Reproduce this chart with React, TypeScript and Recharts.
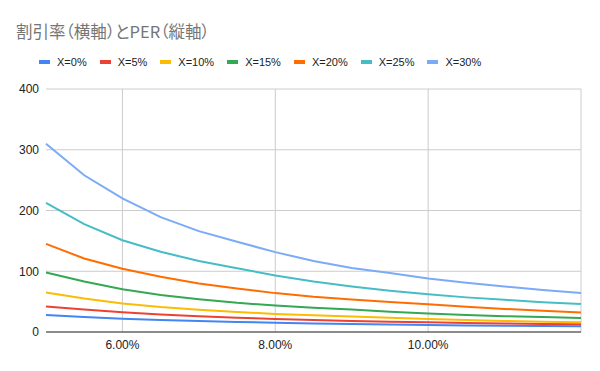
import React from 'react';
import { LineChart, Line, XAxis, YAxis, CartesianGrid } from 'recharts';

const rates = [0.05, 0.055, 0.06, 0.065, 0.07, 0.075, 0.08, 0.085, 0.09, 0.095, 0.1, 0.105, 0.11, 0.115, 0.12];
const x0 = [28, 24.5, 22, 19.8, 18, 16.5, 15.2, 14.1, 13.1, 12.3, 11.6, 10.9, 10.3, 9.8, 9.3];
const x5 = [42, 37, 32.5, 29, 26, 23.5, 21.5, 19.8, 18.3, 17, 16, 15, 14.1, 13.3, 12.6];
const x10 = [65, 55, 47, 41, 36.5, 33, 29.8, 27.5, 25.5, 23.3, 21.2, 19.6, 18.2, 17, 16];
const x15 = [98, 83, 70.5, 61, 54, 48, 43.5, 40, 37, 33.5, 30.5, 28, 26, 24.5, 23];
const x20 = [145, 121, 104, 91, 80, 71.5, 64, 58, 53.5, 49.5, 45.5, 41.5, 38, 35, 32];
const x25 = [212.5, 177.5, 151, 132, 117, 105, 93, 83, 75, 68, 62, 57, 53, 49, 46];
const x30 = [310, 258, 220, 189, 166, 148.5, 131.5, 117, 105.5, 97, 88, 81, 75, 69, 64];
const seriesNames = ['X=0%', 'X=5%', 'X=10%', 'X=15%', 'X=20%', 'X=25%', 'X=30%'];
const seriesValues = [x0, x5, x10, x15, x20, x25, x30];
const colors = ['#4285f4', '#ea4335', '#fbbc04', '#34a853', '#ff6d01', '#46bdc6', '#7baaf7'];
const xTicks = [0.06, 0.08, 0.1, 0.12];
const yTicks = [0, 100, 200, 300, 400];
const title = '割引率（横軸）とPER（縦軸）';

const data = rates.map((r, i) => {
  const row: Record<string, number> = { r };
  seriesNames.forEach((n, k) => {
    row[n] = seriesValues[k][i];
  });
  return row;
});

const font = 'Arial, "Liberation Sans", sans-serif';

export default function App() {
  return (
    <div style={{ position: 'absolute', left: 0, top: 0, width: 600, height: 371, background: '#fff' }}>
      <div
        style={{
          position: 'absolute',
          left: 16,
          top: 19,
          fontFamily: '"Noto Sans CJK JP", sans-serif',
          fontSize: 16.5,
          fontFeatureSettings: '"palt"',
          color: '#757575',
          lineHeight: '24px',
          whiteSpace: 'nowrap',
        }}
      >
        {title}
      </div>
      <div
        style={{
          position: 'absolute',
          left: 39,
          top: 54,
          height: 16,
          display: 'flex',
          alignItems: 'center',
          fontFamily: font,
          fontSize: 11,
          color: '#222',
          whiteSpace: 'nowrap',
        }}
      >
        {seriesNames.map((n, k) => (
          <div key={n} style={{ display: 'flex', alignItems: 'center', marginRight: 13 }}>
            <span style={{ display: 'inline-block', width: 11, height: 4, background: colors[k], marginRight: 7 }} />
            <span>{n}</span>
          </div>
        ))}
      </div>
      <div style={{ position: 'absolute', left: 0, top: 0 }}>
        <LineChart width={600} height={371} data={data} margin={{ top: 89, right: 19, bottom: 9, left: 0 }}>
          <CartesianGrid stroke="#cccccc" strokeWidth={1} verticalValues={xTicks} horizontalValues={yTicks} />
          <XAxis
            dataKey="r"
            type="number"
            domain={[0.05, 0.12]}
            ticks={xTicks}
            height={30}
            tickFormatter={(v: number) => (Math.abs(v - 0.12) < 1e-9 ? '' : (v * 100).toFixed(2) + '%')}
            axisLine={{ stroke: '#333333', strokeWidth: 1 }}
            tickLine={false}
            tick={{ fill: '#222', fontSize: 12, fontFamily: font }}
            interval={0}
          />
          <YAxis
            type="number"
            domain={[0, 400]}
            ticks={yTicks}
            width={46}
            axisLine={false}
            tickLine={false}
            tickSize={5}
            tickMargin={2}
            tick={{ fill: '#222', fontSize: 12, fontFamily: font }}
          />
          {seriesNames.map((n, k) => (
            <Line
              key={n}
              type="linear"
              dataKey={n}
              stroke={colors[k]}
              strokeWidth={2}
              dot={false}
              activeDot={false}
              isAnimationActive={false}
            />
          ))}
        </LineChart>
      </div>
    </div>
  );
}
